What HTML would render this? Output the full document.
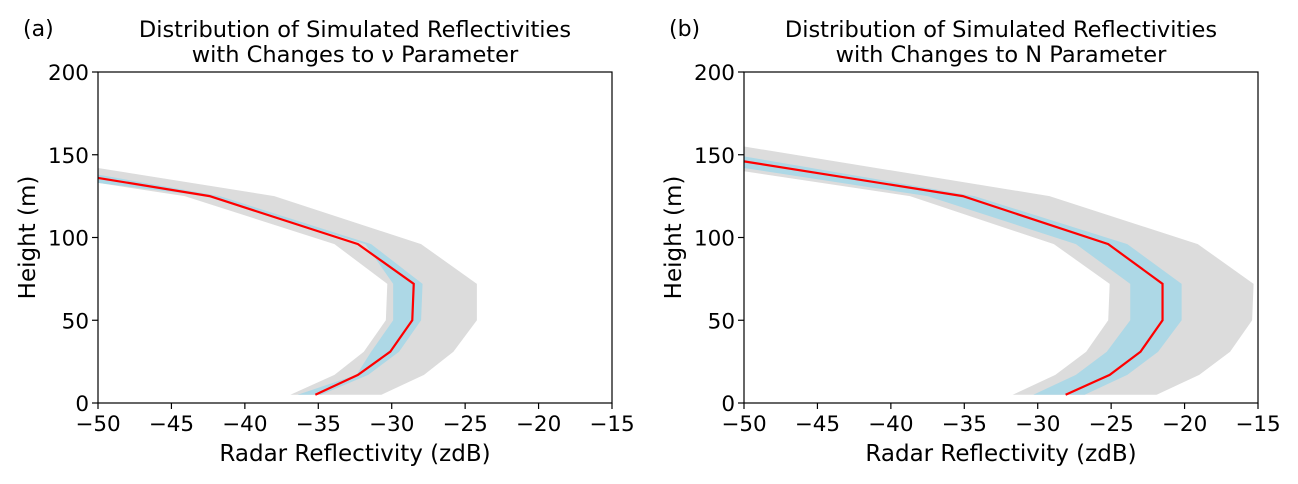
<!DOCTYPE html>
<html><head><meta charset="utf-8"><style>
html,body{margin:0;padding:0;background:#fff;}
svg{display:block;font-family:"DejaVu Sans","Liberation Sans",sans-serif;}
</style></head><body>
<svg id="fig" width="1298" height="484"></svg>
<script>
const heights = [5,17,31,50,72,96,125];
const xTicks = [-50,-45,-40,-35,-30,-25,-20,-15];
const yTicks = [0,50,100,150,200];
// panel a
const aRed = [-35.2,-32.3,-30.1,-28.6,-28.5,-32.3,-42.4];
const aRedTop = 136;
const aBlueL = [-36.4,-32.4,-31.4,-29.9,-29.9,-31.8,-42.7];
const aBlueR = [-34.8,-31.6,-29.5,-28.0,-27.9,-31.4,-41.7];
const aBlueTop = [133,138];
const aGrayL = [-36.9,-33.9,-31.9,-30.4,-30.3,-33.9,-44.1];
const aGrayR = [-30.7,-27.8,-25.8,-24.2,-24.2,-28.0,-38.0];
const aGrayTop = [133,142];
// panel b
const bRed = [-28.1,-25.1,-23.0,-21.5,-21.5,-25.2,-35.1];
const bRedTop = 146;
const bBlueL = [-30.3,-27.4,-25.3,-23.7,-23.7,-27.4,-37.5];
const bBlueR = [-26.8,-23.9,-21.8,-20.2,-20.2,-23.9,-34.3];
const bBlueTop = [142,149];
const bGrayL = [-31.7,-28.8,-26.7,-25.2,-25.1,-28.9,-38.7];
const bGrayR = [-21.9,-19.0,-16.9,-15.4,-15.3,-19.1,-29.2];
const bGrayTop = [140,155];

const NS="http://www.w3.org/2000/svg";
const svg=document.getElementById('fig');
function mk(tag,attrs,parent){const e=document.createElementNS(NS,tag);for(const k in attrs)e.setAttribute(k,attrs[k]);(parent||svg).appendChild(e);return e;}

function panel(id,x0,x1,title1,title2,letter,red,redTop,bL,bR,bTop,gL,gR,gTop){
  const y0=403,y1=72;
  const sx=v=>x0+(v+50)/35*(x1-x0);
  const sy=h=>y0-h/200*(y0-y1);
  const g=mk('g',{});
  
  
  function band(L,R,top,color,name){
    let pts=[];
    for(let i=0;i<heights.length;i++)pts.push(sx(L[i])+','+sy(heights[i]));
    pts.push(sx(-50)+','+sy(top[0]));
    pts.push(sx(-50)+','+sy(top[1]));
    for(let i=heights.length-1;i>=0;i--)pts.push(sx(R[i])+','+sy(heights[i]));
    const p=mk('polygon',{points:pts.join(' '),fill:color},g);
    
    
  }
  band(gL,gR,gTop,'#dcdcdc','gray-range-band');
  band(bL,bR,bTop,'#add8e6','blue-range-band');
  let pts=[];
  for(let i=0;i<heights.length;i++)pts.push(sx(red[i])+','+sy(heights[i]));
  pts.push(sx(-50)+','+sy(redTop));
  const l=mk('polyline',{points:pts.join(' '),fill:'none',stroke:'#ff0000','stroke-width':2.2},g);
  
  
  const fr=mk('rect',{x:x0,y:y1,width:x1-x0,height:y0-y1,fill:'none',stroke:'#000','stroke-width':1.2},g);
  
  
  xTicks.forEach(v=>{
    const x=sx(v);
    mk('line',{x1:x,y1:y0,x2:x,y2:y0+6,stroke:'#000','stroke-width':1.2},g);
    const t=mk('text',{x:x,y:y0+28,'font-size':21.5,'text-anchor':'middle'},g);
    t.textContent=(v<0?'\u2212'+(-v):v);
    
    
  });
  yTicks.forEach(v=>{
    const y=sy(v);
    mk('line',{x1:x0-6,y1:y,x2:x0,y2:y,stroke:'#000','stroke-width':1.2},g);
    const t=mk('text',{x:x0-9,y:y+8,'font-size':21.5,'text-anchor':'end'},g);
    t.textContent=v;
    
    
  });
  const cx=(x0+x1)/2;
  const t1=mk('text',{x:cx,y:37,'font-size':22.5,'text-anchor':'middle'},g);
  t1.textContent=title1;
  
  
  const t2=mk('text',{x:cx,y:62,'font-size':22.5,'text-anchor':'middle'},g);
  t2.textContent=title2;
  
  
  const lt=mk('text',{x:x0-75,y:36,'font-size':22},g);
  lt.textContent=letter;
  
  
  const xl=mk('text',{x:cx,y:461,'font-size':23,'text-anchor':'middle'},g);
  xl.textContent='Radar Reflectivity (zdB)';
  
  
  const yl=mk('text',{x:0,y:0,'font-size':23,'text-anchor':'middle',transform:'translate('+(x0-63)+','+((y0+y1)/2)+') rotate(-90)'},g);
  yl.textContent='Height (m)';
  
  
}
panel('a',98,612,'Distribution of Simulated Reflectivities','with Changes to \u03bd Parameter','(a)',aRed,aRedTop,aBlueL,aBlueR,aBlueTop,aGrayL,aGrayR,aGrayTop);
panel('b',744,1258,'Distribution of Simulated Reflectivities','with Changes to N Parameter','(b)',bRed,bRedTop,bBlueL,bBlueR,bBlueTop,bGrayL,bGrayR,bGrayTop);
</script>
</body></html>
